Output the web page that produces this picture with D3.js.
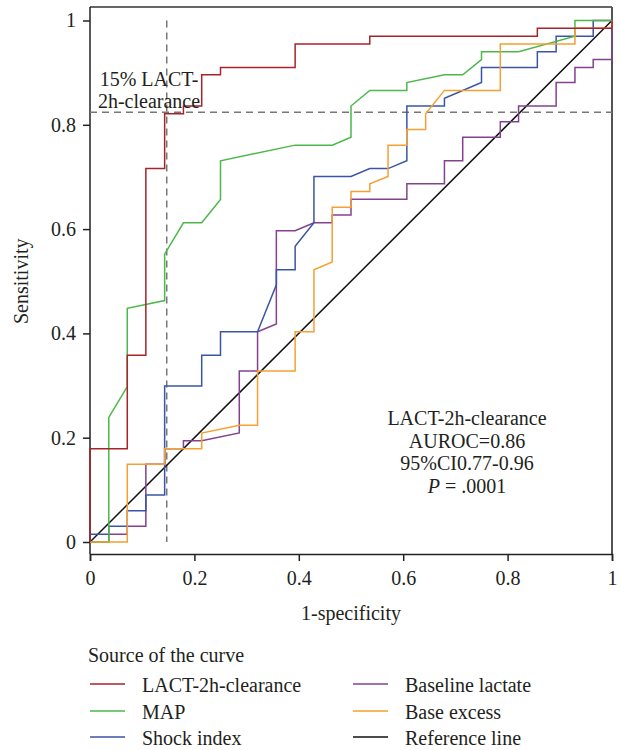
<!DOCTYPE html>
<html>
<head>
<meta charset="utf-8">
<script src="https://cdn.jsdelivr.net/npm/d3@7"></script>
<style>
  body { margin: 0; background: #fff; }
  svg { display: block; }
</style>
</head>
<body>
<svg id="chart" width="621" height="750"></svg>
<script>
// ROC curves, points as [1-specificity, sensitivity]
const lactClearance = [[0,0],[0,0.179],[0.0714,0.179],[0.0714,0.358],[0.107,0.358],[0.107,0.716],[0.143,0.716],[0.143,0.821],[0.179,0.821],[0.179,0.836],[0.214,0.836],[0.214,0.896],[0.25,0.896],[0.25,0.910],[0.393,0.910],[0.393,0.955],[0.536,0.955],[0.536,0.970],[0.857,0.970],[0.857,0.985],[1,0.985],[1,1]];
const mapCurve = [[0,0],[0.036,0],[0.036,0.239],[0.0714,0.298],[0.0714,0.448],[0.143,0.463],[0.143,0.552],[0.179,0.612],[0.214,0.612],[0.25,0.657],[0.25,0.731],[0.393,0.761],[0.464,0.761],[0.5,0.776],[0.5,0.836],[0.536,0.866],[0.607,0.866],[0.607,0.881],[0.679,0.896],[0.714,0.896],[0.75,0.925],[0.75,0.940],[0.821,0.940],[0.929,0.970],[0.929,1],[1,1]];
const shockIndex = [[0,0],[0,0.015],[0.036,0.015],[0.036,0.030],[0.0714,0.030],[0.0714,0.060],[0.107,0.060],[0.107,0.090],[0.143,0.090],[0.143,0.299],[0.214,0.299],[0.214,0.358],[0.25,0.358],[0.25,0.403],[0.321,0.403],[0.357,0.493],[0.357,0.522],[0.393,0.522],[0.393,0.567],[0.429,0.612],[0.429,0.701],[0.5,0.701],[0.536,0.716],[0.571,0.716],[0.607,0.731],[0.607,0.836],[0.679,0.836],[0.679,0.851],[0.75,0.881],[0.75,0.910],[0.857,0.910],[0.857,0.940],[0.893,0.940],[0.893,0.970],[0.964,0.970],[0.964,1],[1,1]];
const baselineLactate = [[0,0],[0.036,0],[0.036,0.015],[0.0714,0.015],[0.0714,0.030],[0.107,0.030],[0.107,0.149],[0.143,0.149],[0.143,0.179],[0.179,0.179],[0.179,0.194],[0.214,0.194],[0.286,0.209],[0.286,0.328],[0.321,0.328],[0.321,0.403],[0.357,0.418],[0.357,0.597],[0.393,0.597],[0.429,0.612],[0.464,0.612],[0.464,0.627],[0.5,0.627],[0.5,0.657],[0.607,0.657],[0.607,0.687],[0.679,0.687],[0.679,0.731],[0.714,0.731],[0.714,0.776],[0.786,0.776],[0.786,0.806],[0.821,0.806],[0.821,0.836],[0.893,0.836],[0.893,0.881],[0.929,0.881],[0.929,0.910],[0.964,0.910],[0.964,0.925],[1,0.925],[1,1]];
const baseExcess = [[0,0],[0.0714,0],[0.0714,0.149],[0.143,0.149],[0.143,0.179],[0.214,0.179],[0.214,0.209],[0.286,0.224],[0.321,0.224],[0.321,0.328],[0.393,0.328],[0.393,0.403],[0.429,0.403],[0.429,0.522],[0.464,0.537],[0.464,0.642],[0.5,0.642],[0.5,0.672],[0.536,0.672],[0.536,0.687],[0.571,0.701],[0.571,0.761],[0.607,0.761],[0.607,0.791],[0.643,0.791],[0.643,0.821],[0.679,0.866],[0.786,0.866],[0.786,0.955],[0.929,0.955],[0.929,0.985],[1,0.985],[1,1]];
const referenceLine = [[0,0],[1,1]];

const tickValues = [0, 0.2, 0.4, 0.6, 0.8, 1];
const cutoff = [0.147, 0.824];   // 15% LACT-2h-clearance point
const statsLines = ["LACT-2h-clearance", "AUROC=0.86", "95%CI0.77-0.96"];

const series = [
  { name: "LACT-2h-clearance", data: lactClearance, color: "#a5252a" },
  { name: "MAP", data: mapCurve, color: "#4cb84a" },
  { name: "Shock index", data: shockIndex, color: "#3a55a8" },
  { name: "Baseline lactate", data: baselineLactate, color: "#84418f" },
  { name: "Base excess", data: baseExcess, color: "#f5a033" },
  { name: "Reference line", data: referenceLine, color: "#111" }
];

const font = "'Liberation Serif', 'Times New Roman', serif";
const fontSize = 20;
const textColor = "#231f20";

const svg = d3.select("#chart");
const plotLeft = 90, plotRight = 612, plotTop = 7, plotBottom = 554;

const x = d3.scaleLinear().domain([0, 1]).range([plotLeft, plotRight]);
const y = d3.scaleLinear().domain([0, 1]).range([542, 20.5]);

// Frame top and right
svg.append("line").attr("x1", plotLeft).attr("x2", plotRight).attr("y1", plotTop).attr("y2", plotTop)
  .attr("stroke", "#333").attr("stroke-width", 1.5);
svg.append("line").attr("x1", plotRight).attr("x2", plotRight).attr("y1", plotTop).attr("y2", plotBottom)
  .attr("stroke", "#555").attr("stroke-width", 2);

// Axes
const xAxis = svg.append("g")
  .attr("transform", `translate(0,${plotBottom})`)
  .call(d3.axisBottom(x).tickValues(tickValues).tickSize(7).tickPadding(10).tickFormat(d3.format("~g")));
const yAxis = svg.append("g")
  .attr("transform", `translate(${plotLeft},0)`)
  .call(d3.axisLeft(y).tickValues(tickValues).tickSize(7).tickPadding(7).tickFormat(d3.format("~g")));
yAxis.select(".domain").attr("d", `M0,${plotTop}V${plotBottom}`);

[xAxis, yAxis].forEach(g => {
  g.select(".domain").attr("stroke", "#222").attr("stroke-width", 1.5);
  g.selectAll(".tick line").attr("stroke", "#222").attr("stroke-width", 1.5);
  g.selectAll("text")
    .attr("fill", textColor)
    .style("font-family", font)
    .style("font-size", fontSize + "px");
});

// Cutoff dashed lines
svg.append("line")
  .attr("x1", x(cutoff[0])).attr("x2", x(cutoff[0]))
  .attr("y1", y(1)).attr("y2", y(0))
  .attr("stroke", "#777").attr("stroke-width", 1.5).attr("stroke-dasharray", "7,5");
svg.append("line")
  .attr("x1", x(0)).attr("x2", x(1))
  .attr("y1", y(cutoff[1])).attr("y2", y(cutoff[1]))
  .attr("stroke", "#777").attr("stroke-width", 1.5).attr("stroke-dasharray", "7,5");

// Curves
const line = d3.line().x(d => x(d[0])).y(d => y(d[1]));
const drawOrder = [5, 3, 2, 1, 4, 0];
drawOrder.forEach(i => {
  const s = series[i];
  svg.append("path")
    .datum(s.data)
    .attr("d", line)
    .attr("fill", "none")
    .attr("stroke", s.color)
    .attr("stroke-width", 1.5)
    .attr("stroke-linejoin", "miter");
});

// Cutoff annotation
const note = svg.append("text")
  .attr("text-anchor", "middle")
  .attr("fill", textColor)
  .style("font-family", font)
  .style("font-size", fontSize + "px");
note.append("tspan").attr("x", 149).attr("y", 86).text("15% LACT-");
note.append("tspan").attr("x", 149).attr("y", 108).text("2h-clearance");

// Stats block
const stats = svg.append("text")
  .attr("text-anchor", "middle")
  .attr("fill", textColor)
  .style("font-family", font)
  .style("font-size", fontSize + "px");
statsLines.forEach((t, i) => {
  stats.append("tspan").attr("x", 467).attr("y", 425 + i * 22.5).text(t);
});
const pLine = stats.append("tspan").attr("x", 467).attr("y", 425 + 3 * 22.5);
pLine.append("tspan").style("font-style", "italic").text("P");
pLine.append("tspan").text(" = .0001");

// Axis titles
svg.append("text")
  .attr("x", (plotLeft + plotRight) / 2).attr("y", 620)
  .attr("text-anchor", "middle")
  .attr("fill", textColor)
  .style("font-family", font)
  .style("font-size", fontSize + "px")
  .text("1-specificity");
svg.append("text")
  .attr("transform", `translate(28,${y(0.5)}) rotate(-90)`)
  .attr("text-anchor", "middle")
  .attr("fill", textColor)
  .style("font-family", font)
  .style("font-size", fontSize + "px")
  .text("Sensitivity");

// Legend
svg.append("text")
  .attr("x", 88).attr("y", 662)
  .attr("fill", textColor)
  .style("font-family", font)
  .style("font-size", fontSize + "px")
  .text("Source of the curve");

const legendCols = [90, 353];
const legendRows = [684, 711, 737];
const legendItem = svg.selectAll(".legend-item")
  .data(series)
  .enter()
  .append("g")
  .attr("class", "legend-item")
  .attr("transform", (d, i) => `translate(${legendCols[Math.floor(i / 3)]},${legendRows[i % 3]})`);
legendItem.append("line")
  .attr("x1", 0).attr("x2", 35)
  .attr("stroke", d => d.color)
  .attr("stroke-width", 1.5);
legendItem.append("text")
  .attr("x", 52).attr("y", 7.5)
  .attr("fill", textColor)
  .style("font-family", font)
  .style("font-size", fontSize + "px")
  .text(d => d.name);
</script>
</body>
</html>
